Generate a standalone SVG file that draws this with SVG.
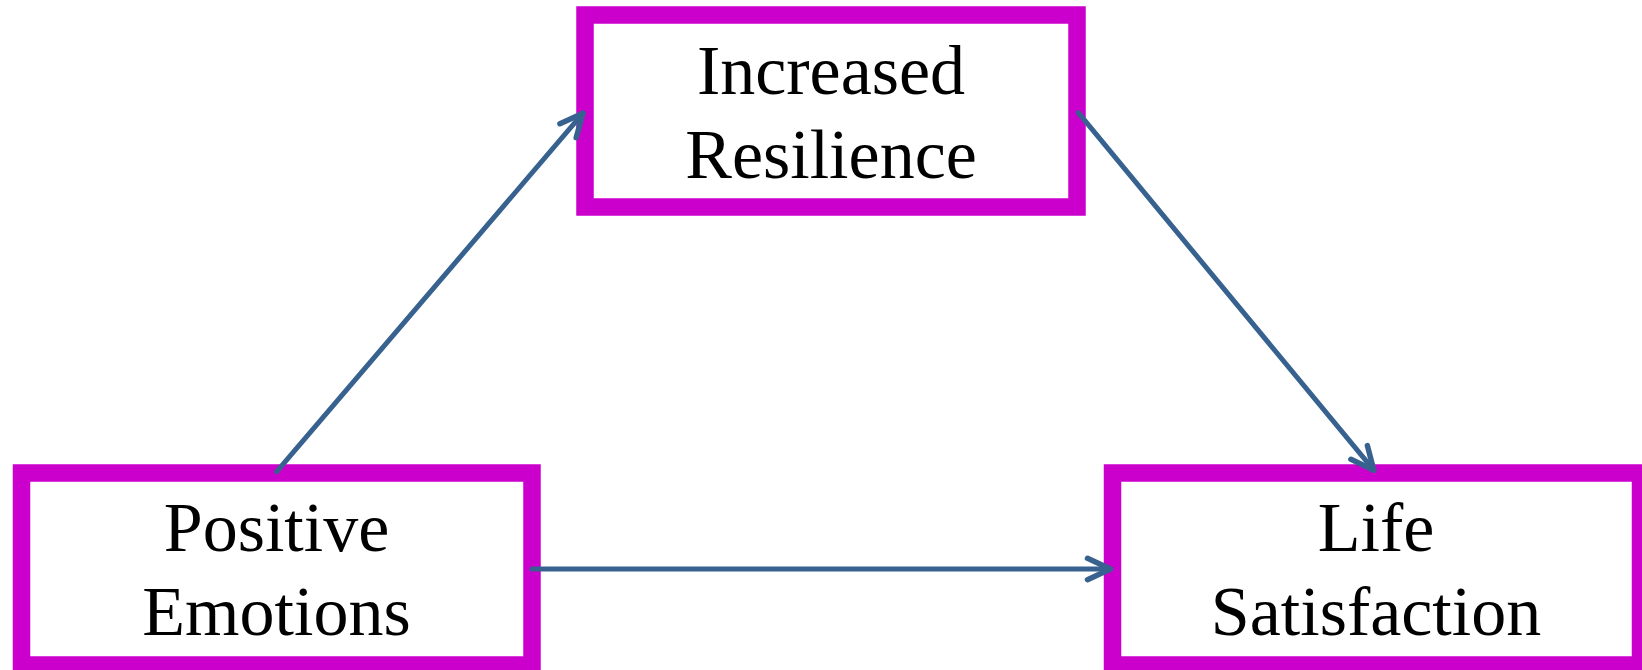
<svg xmlns="http://www.w3.org/2000/svg" width="1642" height="670" viewBox="0 0 1642 670">
  <style>
    .box { fill: #ffffff; stroke: #CC00CC; stroke-width: 17.5; }
    .lbl { font-family: "Liberation Serif", "Times New Roman", serif; font-size: 70px; fill: #000000; text-anchor: middle; }
    .conn { stroke: #37628F; stroke-width: 5; fill: none; stroke-linecap: round; }
  </style>
  <defs>
    <marker id="arrow" markerUnits="userSpaceOnUse" orient="auto" refX="0" refY="0" markerWidth="40" markerHeight="40" overflow="visible">
      <path d="M-23,-10.7 L0,0 L-23,10.7" fill="none" stroke="#37628F" stroke-width="5.5" stroke-linecap="round" stroke-linejoin="round"/>
    </marker>
  </defs>
  <rect width="1642" height="670" fill="#ffffff"/>
  <g id="node-resilience">
    <rect class="box" x="585" y="15" width="492" height="192"/>
    <text class="lbl" x="831" y="94">Increased</text>
    <text class="lbl" x="831" y="178">Resilience</text>
  </g>
  <g id="node-positive">
    <rect class="box" x="21.5" y="473" width="510.5" height="192"/>
    <text class="lbl" x="276.5" y="551">Positive</text>
    <text class="lbl" x="276.5" y="635">Emotions</text>
  </g>
  <g id="node-life">
    <rect class="box" x="1112.5" y="473" width="528" height="192"/>
    <text class="lbl" x="1376" y="551">Life</text>
    <text class="lbl" x="1376" y="635">Satisfaction</text>
  </g>
  <g id="connectors">
    <line class="conn" x1="276.7" y1="471.7" x2="583" y2="113.2" marker-end="url(#arrow)"/>
    <line class="conn" x1="1078.3" y1="112.7" x2="1373.8" y2="470.2" marker-end="url(#arrow)"/>
    <line class="conn" x1="532" y1="569" x2="1110.5" y2="569" marker-end="url(#arrow)"/>
  </g>
</svg>
